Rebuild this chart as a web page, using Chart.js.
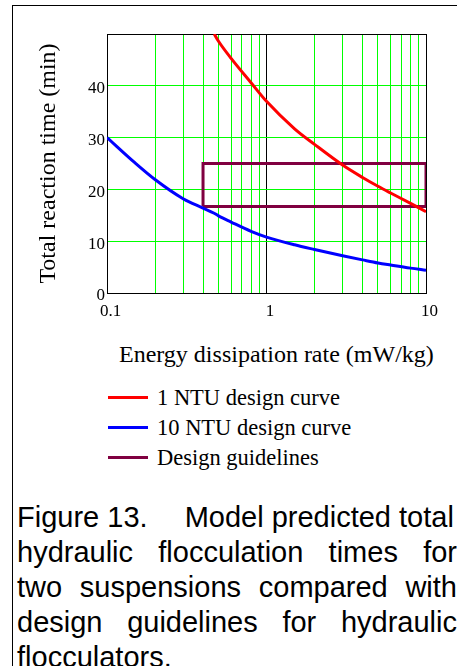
<!DOCTYPE html>
<html>
<head>
<meta charset="utf-8">
<script src="https://cdn.jsdelivr.net/npm/chart.js@4.4.1/dist/chart.umd.min.js"></script>
<style>
  html, body { margin: 0; padding: 0; background: #fff; }
  body { width: 457px; height: 666px; position: relative; overflow: hidden; }
  #frame { position: absolute; left: 12px; top: 5px; width: 470px; height: 700px; border-left: 1px solid #000; border-top: 1px solid #000; }
  #chart { position: absolute; left: 0; top: 0; }
  #xtitle { position: absolute; left: 119px; top: 341px; line-height: 30px; font: 24px "Liberation Serif", "Times New Roman", serif; white-space: nowrap; color: #000; }
  .legend-row { position: absolute; left: 108px; height: 30px; line-height: 30px; font-family: "Liberation Serif", "Times New Roman", serif; font-size: 22.5px; white-space: nowrap; color: #000; }
  .legend-row .swatch { position: absolute; left: 0; top: 12.5px; width: 40px; height: 3px; }
  .legend-row .label { position: absolute; left: 49px; top: 0; }
  .caption { position: absolute; left: 17px; width: 440px; font-family: "Liberation Sans", Arial, sans-serif; font-size: 29px; line-height: 35px; color: #000; }
  .just { text-align: justify; text-align-last: justify; }
</style>
</head>
<body>
<div id="frame"></div>
<canvas id="chart" width="457" height="330"></canvas>
<div id="xtitle">Energy dissipation rate (mW/kg)</div>
<div id="legend"></div>
<div class="caption" style="top:500px; white-space:nowrap;">Figure 13.<span style="display:inline-block;width:29px"></span> Model predicted total</div>
<div class="caption just" style="top:535px;">hydraulic flocculation times for</div>
<div class="caption just" style="top:570px;">two suspensions compared with</div>
<div class="caption just" style="top:605px;">design guidelines for hydraulic</div>
<div class="caption" style="top:640px;">flocculators.</div>

<script>
// values
var energyRate = [0.1, 0.15, 0.2, 0.3, 0.4, 0.47, 0.5, 0.6, 0.8, 1, 1.5, 2, 3, 4, 5, 6, 8, 10];
var ntu1Time = [null, null, null, null, null, 50, 48.6, 45.3, 40.6, 37.0, 31.7, 28.7, 24.7, 22.3, 20.6, 19.3, 17.3, 15.7];
var ntu10Time = [30.0, 25.1, 21.9, 18.2, 16.4, 15.4, 14.9, 13.7, 11.9, 10.8, 9.3, 8.4, 7.2, 6.4, 5.8, 5.4, 4.8, 4.4];
var guideRate = [0.4, 10, 10, 0.4, 0.4];
var guideTime = [16.7, 16.7, 25, 25, 16.7];
var seriesNames = ["1 NTU design curve", "10 NTU design curve", "Design guidelines"];
var seriesColors = ["#ff0000", "#0000ff", "#800040"];
var xGridTicks = [0.1, 0.2, 0.3, 0.4, 0.5, 0.6, 0.7, 0.8, 0.9, 1, 2, 3, 4, 5, 6, 7, 8, 9, 10];
var xTickLabels = [0.1, 1, 10];
var yTickLabels = [0, 10, 20, 30, 40];

function points(xs, ys) {
    return xs.map(function(x, i) { return {x: x, y: ys[i]}; });
}
function near(a, b) {
    return Math.abs(a - b) < 1e-6 * Math.max(1, Math.abs(b));
}
function inList(list, v) {
    return list.some(function(t) { return near(v, t); });
}

var serif = "'Liberation Serif', 'Times New Roman', serif";

var ctx = document.getElementById('chart').getContext('2d');
var myChart = new Chart(ctx, {
    type: 'scatter',
    data: {
        datasets: [
            {
                label: seriesNames[0],
                data: points(energyRate, ntu1Time),
                borderColor: seriesColors[0],
                backgroundColor: seriesColors[0],
                showLine: true,
                pointRadius: 0,
                borderWidth: 3,
                cubicInterpolationMode: 'monotone'
            },
            {
                label: seriesNames[1],
                data: points(energyRate, ntu10Time),
                borderColor: seriesColors[1],
                backgroundColor: seriesColors[1],
                showLine: true,
                pointRadius: 0,
                borderWidth: 3,
                cubicInterpolationMode: 'monotone'
            },
            {
                label: seriesNames[2],
                data: points(guideRate, guideTime),
                borderColor: seriesColors[2],
                backgroundColor: seriesColors[2],
                showLine: true,
                pointRadius: 0,
                borderWidth: 3,
                tension: 0,
                borderJoinStyle: 'miter'
            }
        ]
    },
    options: {
        responsive: false,
        animation: false,
        layout: { padding: { left: 0, right: 31, top: 34, bottom: 0 } },
        plugins: {
            legend: { display: false },
            tooltip: { enabled: false }
        },
        scales: {
            x: {
                type: 'logarithmic',
                min: 0.1,
                max: 10,
                afterFit: function(scale) { scale.height = 37; },
                afterBuildTicks: function(scale) {
                    scale.ticks = xGridTicks.map(function(v) { return {value: v, major: false}; });
                },
                border: { display: true, color: '#000', width: 1 },
                grid: {
                    drawTicks: false,
                    lineWidth: 1,
                    color: function(c) {
                        if (c.tick && near(c.tick.value, 1)) return '#000';
                        if (c.tick && near(c.tick.value, 10)) return '#000';
                        return '#00ff00';
                    }
                },
                ticks: {
                    autoSkip: false,
                    maxRotation: 0,
                    padding: 8,
                    labelOffset: 3.5,
                    color: '#000',
                    font: { family: serif, size: 17 },
                    callback: function(value) {
                        return inList(xTickLabels, value) ? String(value) : '';
                    }
                }
            },
            y: {
                type: 'linear',
                min: 0,
                max: 50,
                afterFit: function(scale) { scale.width = 107; },
                border: { display: true, color: '#000', width: 1 },
                grid: {
                    drawTicks: false,
                    lineWidth: 1,
                    color: function(c) {
                        return (c.tick && (near(c.tick.value, 0) || near(c.tick.value, 50))) ? '#000' : '#00ff00';
                    }
                },
                ticks: {
                    stepSize: 10,
                    padding: 2,
                    labelOffset: 3,
                    color: '#000',
                    font: { family: serif, size: 17 },
                    callback: function(value) {
                        return inList(yTickLabels, value) ? String(value) : '';
                    }
                },
                title: {
                    display: true,
                    text: 'Total reaction time (min)',
                    color: '#000',
                    font: { family: serif, size: 24 },
                    padding: { top: 34, bottom: 0 }
                }
            }
        }
    }
});

// legend built from the chart's datasets
var legend = document.getElementById('legend');
myChart.data.datasets.forEach(function(ds, i) {
    var row = document.createElement('div');
    row.classList.add('legend-row');
    row.style.top = (383.4 + i * 30) + 'px';
    var sw = document.createElement('span');
    sw.classList.add('swatch');
    sw.style.background = ds.borderColor;
    var lb = document.createElement('span');
    lb.classList.add('label');
    lb.innerHTML = ds.label;
    row.appendChild(sw);
    row.appendChild(lb);
    legend.appendChild(row);
});
</script>
</body>
</html>
